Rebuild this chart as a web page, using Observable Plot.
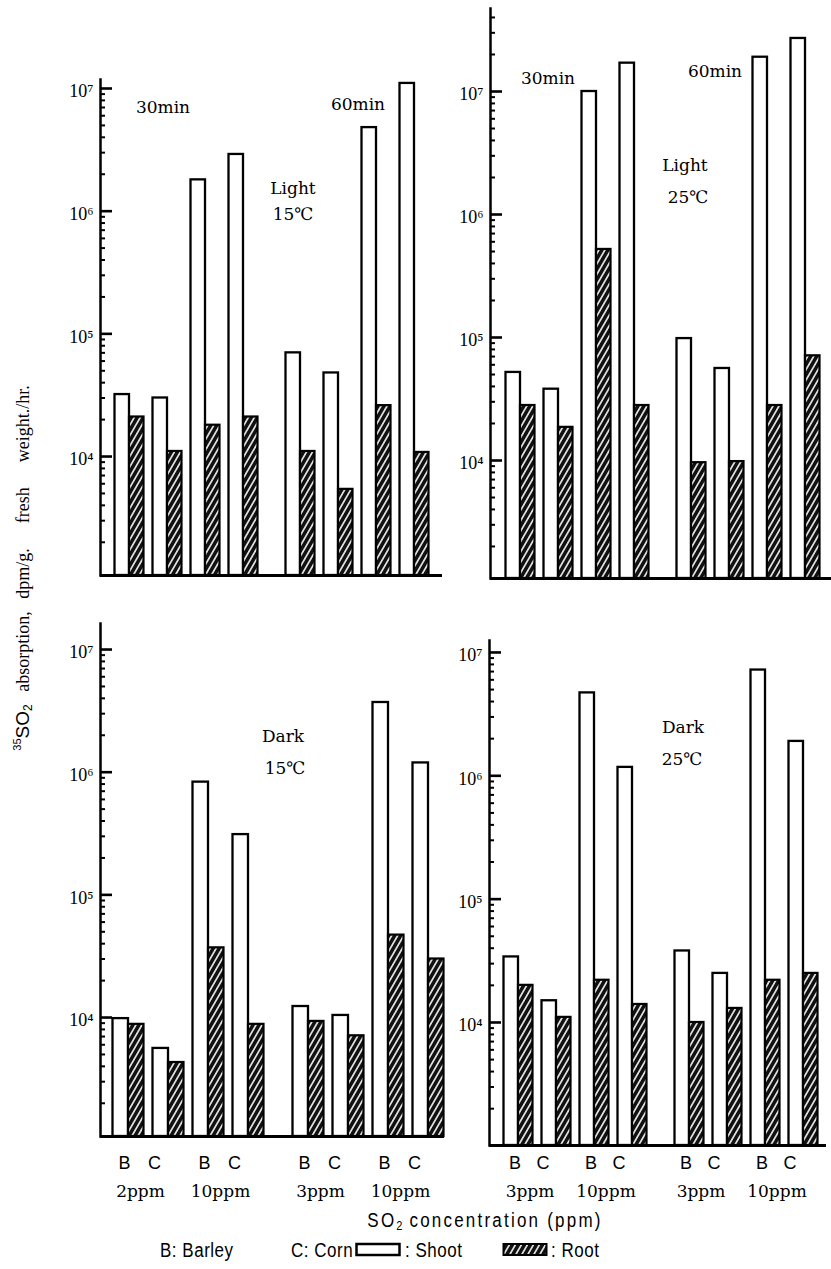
<!DOCTYPE html>
<html>
<head>
<meta charset="utf-8">
<script src="https://cdn.jsdelivr.net/npm/d3@7"></script>
<script src="https://cdn.jsdelivr.net/npm/@observablehq/plot@0.6"></script>
<style>
  html, body { margin: 0; padding: 0; background: #fff; }
  #page { position: relative; width: 831px; height: 1269px; overflow: hidden; background: #fff; }
  .panel { position: absolute; }
  .panel g[aria-label="y-axis tick label"] { font-size: 18px; font-family: "Liberation Serif", serif; }
  .note { position: absolute; transform: translate(-50%, -50%); white-space: nowrap; line-height: 1;
          font-family: "DejaVu Serif", serif; font-size: 17px; color: #000; }
  .sans { font-family: "Liberation Sans", Arial, sans-serif; }
  #ytitle { position: absolute; left: 23px; top: 568px; transform: translate(-50%, -50%) rotate(-90deg);
            white-space: nowrap; font-family: "Liberation Serif", serif; font-size: 18px; word-spacing: 8px; line-height: 1; }
  #ytitle .sans { font-size: 19px; word-spacing: 0; }
  #ytitle sup { font-size: 11px; vertical-align: 8px; }
  #ytitle sub { font-size: 12px; vertical-align: -3px; }
  #xtitle { position: absolute; left: 485px; top: 1221px; transform: translate(-50%, -50%) scaleX(0.85); white-space: nowrap;
            font-size: 20px; letter-spacing: 2.6px; line-height: 1; }
  #xtitle sub { font-size: 13px; vertical-align: -3px; letter-spacing: 0; }
  .leg { position: absolute; top: 1250px; transform: translateY(-50%) scaleX(0.85); transform-origin: left center;
         white-space: nowrap; font-size: 20px; letter-spacing: 0.6px; line-height: 1; }
  .swatch { position: absolute; top: 1250px; transform: translateY(-50%); }
</style>
</head>
<body>
<svg width="0" height="0" style="position:absolute">
  <defs>
    <pattern id="hatch" patternUnits="userSpaceOnUse" width="5.2" height="10" patternTransform="rotate(30)">
      <rect width="5.2" height="10" fill="#111"></rect>
      <line x1="2.6" y1="0" x2="2.6" y2="10" stroke="#fff" stroke-width="1.5"></line>
    </pattern>
  </defs>
</svg>
<div id="page"></div>
<script>
// Column groups, left to right: 30min (low SO2, 10ppm), then 60min (low SO2, 10ppm); B and C side by side
const times = ["30min", "60min"];
const species = ["B", "C"];
const levelsLeft = ["2ppm", "10ppm", "3ppm", "10ppm"];
const levelsRight = ["3ppm", "10ppm", "3ppm", "10ppm"];
const majorTicks = [1e4, 1e5, 1e6, 1e7];

// 35SO2 absorption, dpm/g fresh weight/hr
// order: 30min B low, C low, B 10ppm, C 10ppm, 60min B low, C low, B 10ppm, C 10ppm
const light15Shoot = [3.2e4, 3.0e4, 1.8e6, 2.9e6, 7.0e4, 4.8e4, 4.8e6, 1.1e7];
const light15Root  = [2.1e4, 1.1e4, 1.8e4, 2.1e4, 1.1e4, 5.4e3, 2.6e4, 1.08e4];
const light25Shoot = [5.2e4, 3.8e4, 1.0e7, 1.7e7, 9.8e4, 5.6e4, 1.9e7, 2.7e7];
const light25Root  = [2.8e4, 1.86e4, 5.2e5, 2.8e4, 9.6e3, 9.8e3, 2.8e4, 7.1e4];
const dark15Shoot  = [9.8e3, 5.6e3, 8.3e5, 3.1e5, 1.23e4, 1.04e4, 3.7e6, 1.19e6];
const dark15Root   = [8.8e3, 4.3e3, 3.7e4, 8.8e3, 9.3e3, 7.1e3, 4.7e4, 3.0e4];
const dark25Shoot  = [3.4e4, 1.5e4, 4.7e6, 1.17e6, 3.8e4, 2.5e4, 7.2e6, 1.9e6];
const dark25Root   = [2.0e4, 1.1e4, 2.2e4, 1.4e4, 1.0e4, 1.3e4, 2.2e4, 2.5e4];

// band keys: two bars per column group, a blank slot between the 30min and 60min halves
const keys = [];
for (let i = 0; i < 8; i++) {
  if (i === 4) keys.push("gap");
  keys.push(`${i}-Shoot`, `${i}-Root`);
}
const supDigits = "⁰¹²³⁴⁵⁶⁷⁸⁹";
const powerLabel = d => "10" + supDigits[Math.round(Math.log10(d))];

const page = document.getElementById("page");

function panel(layout, shoot, root, levels) {
  const frameW = layout.width - layout.marginLeft - layout.marginRight;
  const [lo, hi] = layout.domain;
  const minor = [];
  for (let e = 3; e <= 7; e++) for (let m = 2; m <= 9; m++) {
    const v = m * 10 ** e;
    if (v > lo && v < hi) minor.push(v);
  }
  const shootRows = shoot.map((value, i) => ({key: `${i}-Shoot`, value}));
  const rootRows = root.map((value, i) => ({key: `${i}-Root`, value}));
  const marks = [
    Plot.barY(shootRows, {x: "key", y1: lo, y2: "value", fill: "white", stroke: "black", strokeWidth: 2.3, insetLeft: 4.5}),
    Plot.barY(rootRows, {x: "key", y1: lo, y2: "value", fill: "url(#hatch)", stroke: "black", strokeWidth: 2.2, insetRight: 4.5}),
    Plot.frame({anchor: "left", strokeWidth: 2.5}),
    Plot.ruleY([lo], {strokeWidth: 3}),
    Plot.ruleY(majorTicks, {insetRight: frameW - 12, strokeWidth: 2.6}),
    Plot.ruleY(minor, {insetRight: frameW - 5, strokeWidth: 2}),
    Plot.axisY({ticks: majorTicks, tickSize: 0, tickPadding: 7, tickFormat: powerLabel, label: null, dy: 3})
  ];
  if (levels) {
    const pairs = d3.range(8);
    const sansFont = "Liberation Sans, Arial, sans-serif";
    marks.push(
      Plot.text(pairs.filter(i => i % 2 === 0), {x: i => `${i}-Shoot`, text: () => species[0], frameAnchor: "bottom",
        dy: layout.labelDy, dx: 6, fontFamily: sansFont, fontSize: 18}),
      Plot.text(pairs.filter(i => i % 2 === 1), {x: i => `${i}-Shoot`, text: () => species[1], frameAnchor: "bottom",
        dy: layout.labelDy, dx: -4, fontFamily: sansFont, fontSize: 18}),
      Plot.text(pairs.filter(i => i % 2 === 0), {x: i => `${i}-Root`, text: i => levels[i / 2], frameAnchor: "bottom",
        dy: layout.labelDy + 28, dx: 2, fontFamily: "DejaVu Serif, serif", fontSize: 17})
    );
  }
  const svg = Plot.plot({
    width: layout.width, height: layout.height,
    marginLeft: layout.marginLeft, marginRight: layout.marginRight,
    marginTop: layout.marginTop, marginBottom: layout.marginBottom,
    style: {background: "transparent", overflow: "visible", fontFamily: "Liberation Serif, serif", color: "black"},
    x: {type: "band", domain: keys, range: layout.band, padding: 0, axis: null},
    y: {type: "log", domain: layout.domain, axis: null},
    marks
  });
  svg.classList.add("panel");
  svg.style.left = layout.left + "px";
  svg.style.top = layout.top + "px";
  svg.style.maxWidth = "none";
  page.appendChild(svg);
}

panel({left: 0, top: 0, width: 450, height: 600, marginLeft: 100, marginRight: 8, marginTop: 79, marginBottom: 25,
       band: [108.5, 434.5], domain: [1072, 1.184e7]}, light15Shoot, light15Root);
panel({left: 440, top: 0, width: 391, height: 600, marginLeft: 50, marginRight: 0, marginTop: 8, marginBottom: 22,
       band: [57.5, 387.5], domain: [1098, 4.73e7]}, light25Shoot, light25Root);
panel({left: 0, top: 600, width: 450, height: 669, marginLeft: 100, marginRight: 6, marginTop: 23, marginBottom: 133,
       band: [107.5, 447.5], domain: [1072, 1.63e7], labelDy: 32}, dark15Shoot, dark15Root, levelsLeft);
panel({left: 440, top: 600, width: 391, height: 669, marginLeft: 49, marginRight: 5, marginTop: 40, marginBottom: 124,
       band: [57.5, 383.5], domain: [1006, 1.25e7], labelDy: 23}, dark25Shoot, dark25Root, levelsRight);

// panel annotations
const notes = [
  [times[0], 163, 107], [times[1], 358, 104], ["Light", 293, 188], ["15℃", 293, 214],
  [times[0], 548, 78], [times[1], 715, 71], ["Light", 685, 165], ["25℃", 688, 197],
  ["Dark", 283, 736], ["15℃", 285, 768],
  ["Dark", 683, 727], ["25℃", 682, 759]
];
for (const [t, x, y] of notes) {
  const d = document.createElement("div");
  d.className = "note";
  d.textContent = t;
  d.style.left = x + "px";
  d.style.top = y + "px";
  page.appendChild(d);
}

page.insertAdjacentHTML("beforeend", `
  <div id="ytitle"><span class="sans"><sup>35</sup>SO<sub>2</sub></span> absorption, dpm/g.&nbsp; fresh&nbsp; weight./hr.</div>
  <div id="xtitle" class="sans">SO<sub>2</sub> concentration (ppm)</div>
  <div class="leg sans" style="left:160px">B: Barley</div>
  <div class="leg sans" style="left:291px">C: Corn</div>
  <svg class="swatch" style="left:355px" width="46" height="16"><rect x="1.5" y="2" width="43" height="11" fill="white" stroke="black" stroke-width="2.5"></rect></svg>
  <div class="leg sans" style="left:405px">: Shoot</div>
  <svg class="swatch" style="left:502px" width="46" height="16"><rect x="1.5" y="2" width="43" height="11" fill="url(#hatch)" stroke="black" stroke-width="2"></rect></svg>
  <div class="leg sans" style="left:551px">: Root</div>
`);
</script>
</body>
</html>
